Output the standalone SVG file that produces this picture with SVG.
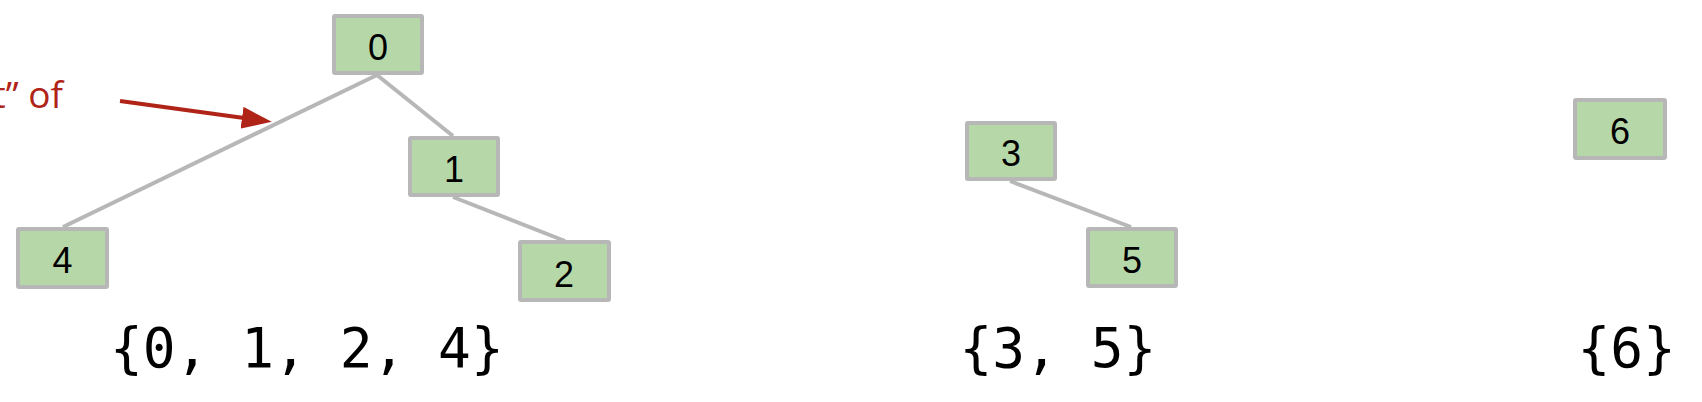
<svg xmlns="http://www.w3.org/2000/svg" width="1702" height="402" viewBox="0 0 1702 402">
<style>
.node rect{fill:#b6d7a8;stroke:#b7b7b7;stroke-width:4}
.node text{font-family:"Liberation Sans",Arial,sans-serif;font-size:36px;fill:#000;text-anchor:middle}
.edge{stroke:#b7b7b7;stroke-width:4;fill:none}
.set{font-family:"DejaVu Sans Mono",monospace;font-size:54.5px;fill:#000}
.note{font-family:"Open Sans",sans-serif;font-size:37px;fill:#b02418;text-anchor:end}
</style>
<defs>
<marker id="ah" markerUnits="userSpaceOnUse" markerWidth="30" markerHeight="22" refX="2" refY="11" orient="auto">
<path d="M0,0 L30,11 L0,22 z" fill="#b02418"/>
</marker>
</defs>
<g id="connectors">
<line class="edge" x1="377" y1="75" x2="63" y2="227"/>
<line class="edge" x1="377" y1="75" x2="453" y2="136"/>
<line class="edge" x1="453" y1="197" x2="565" y2="241"/>
<line class="edge" x1="1010" y1="181" x2="1131" y2="227"/>
<line x1="120" y1="101" x2="244" y2="118" stroke="#b02418" stroke-width="4" marker-end="url(#ah)"/>
</g>
<g id="node0" class="node"><rect x="334" y="16" width="88" height="57" rx="1"/><text x="378" y="60">0</text></g>
<g id="node1" class="node"><rect x="410" y="138" width="88" height="57" rx="1"/><text x="454" y="182">1</text></g>
<g id="node2" class="node"><rect x="520" y="242" width="89" height="58" rx="1"/><text x="564" y="287">2</text></g>
<g id="node4" class="node"><rect x="18" y="229" width="89" height="58" rx="1"/><text x="62.5" y="273">4</text></g>
<g id="node3" class="node"><rect x="967" y="123" width="88" height="56" rx="1"/><text x="1011" y="166">3</text></g>
<g id="node5" class="node"><rect x="1088" y="229" width="88" height="57" rx="1"/><text x="1132" y="273">5</text></g>
<g id="node6" class="node"><rect x="1575" y="100" width="90" height="58" rx="1"/><text x="1620" y="144">6</text></g>
<text class="note" x="63" y="108">t” of</text>
<text class="set" x="110" y="367">{0, 1, 2, 4}</text>
<text class="set" x="959.5" y="367">{3, 5}</text>
<text class="set" x="1577.5" y="367">{6}</text>
</svg>
